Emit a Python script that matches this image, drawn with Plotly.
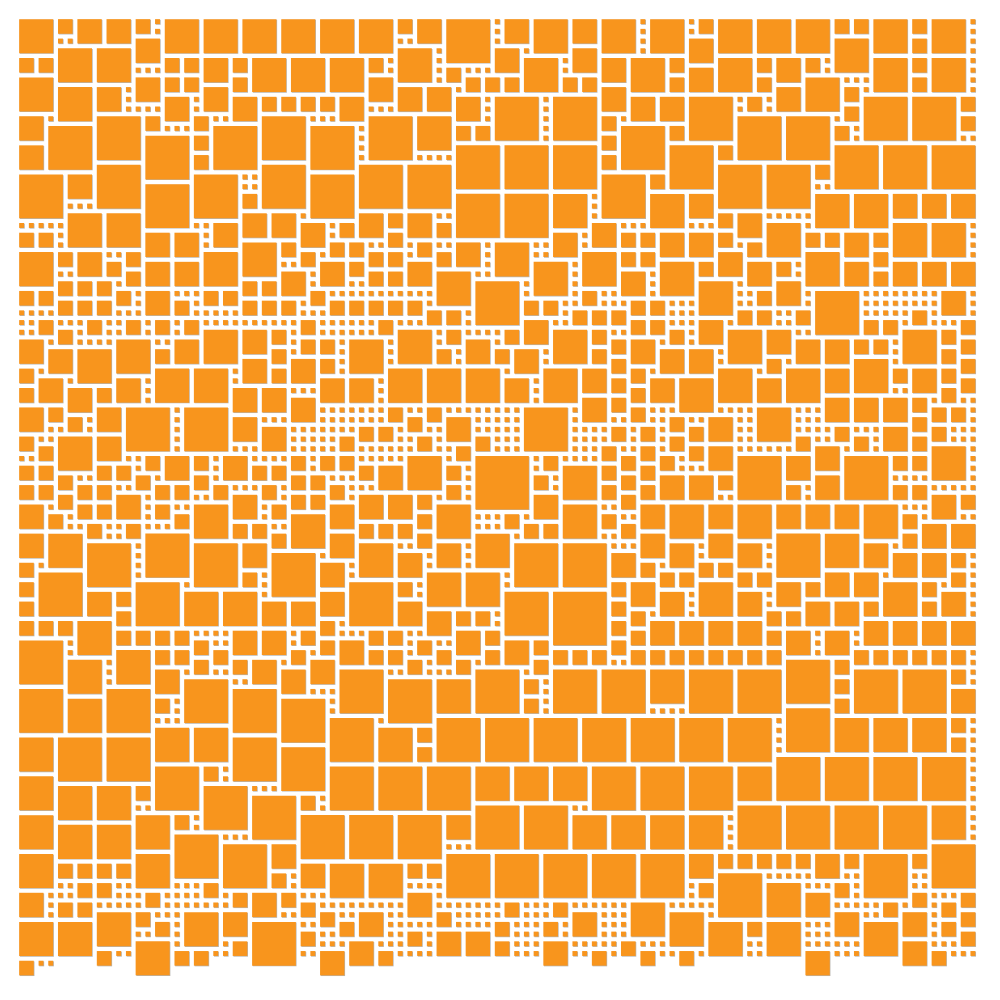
# Packed squares on a 99 x 99 cell grid
import plotly.graph_objects as go

# Color of the squares
_SQUARE_COLOR = "#F8951D"

# Color of the thin edge showing at the right and bottom of each square
_EDGE_COLOR = "#B8B4AE"

GRID_CELLS = 99

# Squares larger than one cell as (column, row, span), listed by area of the grid
squares_top_left = [(0,0,4),(4,0,2),(6,0,3),(9,0,3),(12,0,2),(15,0,4),(19,0,4),(23,0,4),(27,0,4),(31,0,4),(12,2,3),(4,3,4),(8,3,4),(0,4,2),(2,4,2),(15,4,2),(17,4,2),(19,4,3),(22,4,2),(24,4,4),(28,4,4),(32,4,4),(0,6,4),(12,6,3),(15,6,2),(17,6,2),(22,6,2),(4,7,4),(8,7,3),(19,7,3),(15,8,3),(22,8,3),(25,8,2),(27,8,2),(29,8,2),(31,8,2),(33,8,3),(0,10,3),(8,10,5),(13,10,2),(18,10,2),(25,10,5),(3,11,5),(20,11,5),(30,11,5),(13,12,5),(18,12,2),(0,13,3),(18,14,2),(8,15,5),(25,15,5),(0,16,5),(5,16,3),(18,16,5),(30,16,5),(13,17,5),(23,18,2),(5,20,4),(9,20,4),(23,20,3),(26,20,3),(20,21,3),(29,21,3),(33,21,2),(0,22,2),(2,22,2),(13,22,3),(16,22,3),(23,23,4),(27,23,2)]
squares_top_mid = [(35,0,4),(39,0,2),(41,0,3),(44,0,5),(50,0,3),(53,0,4),(57,0,3),(60,0,4),(65,0,4),(39,3,4),(49,3,3),(57,3,3),(36,4,2),(52,4,4),(60,4,3),(63,4,4),(44,5,2),(36,6,3),(46,6,2),(48,6,2),(50,6,2),(56,6,2),(58,6,2),(39,7,3),(42,7,3),(60,7,3),(45,8,3),(49,8,5),(55,8,5),(63,8,3),(66,8,3),(36,10,5),(41,10,4),(60,10,2),(45,11,2),(47,11,2),(62,11,5),(60,12,2),(45,13,5),(50,13,5),(55,13,5),(60,14,2),(35,15,5),(40,15,5),(60,16,5),(65,16,2),(45,18,5),(50,18,5),(55,18,4),(65,18,4),(35,20,3),(38,20,2),(40,20,3),(43,21,2),(59,21,3),(38,22,2),(55,22,3),(62,22,2),(64,22,2),(66,22,3),(32,23,2),(34,23,2),(41,23,2),(45,23,3),(49,23,4)]
squares_top_right = [(70,0,2),(72,0,4),(76,0,4),(80,0,4),(84,0,2),(86,0,2),(88,0,4),(92,0,2),(94,0,4),(69,2,3),(84,2,4),(92,2,2),(67,4,2),(72,4,4),(76,4,2),(78,4,3),(81,4,2),(88,4,4),(92,4,2),(94,4,4),(69,5,3),(67,6,2),(76,6,2),(81,6,4),(92,6,2),(78,7,3),(85,7,2),(69,8,5),(75,8,2),(87,8,5),(92,8,5),(97,8,2),(85,9,2),(74,10,5),(79,10,5),(97,10,2),(67,11,2),(84,11,2),(67,13,5),(72,13,2),(84,13,5),(89,13,5),(94,13,5),(72,15,5),(77,15,5),(82,15,2),(69,18,3),(82,18,4),(86,18,4),(90,18,3),(93,18,3),(96,18,3),(72,20,2),(74,20,3),(77,21,4),(90,21,4),(94,21,4),(69,22,3),(72,22,2),(81,22,2),(83,22,2),(85,22,3),(88,22,2),(75,23,2)]
squares_upper_left = [(0,24,4),(4,24,2),(6,24,3),(11,24,2),(29,24,2),(9,25,2),(13,25,3),(16,25,3),(19,24,4),(31,25,3),(11,26,2),(27,26,3),(4,27,2),(6,27,2),(8,27,2),(23,27,2),(25,27,2),(0,28,2),(2,28,2),(10,28,2),(13,28,3),(19,28,2),(21,28,2),(30,28,2),(4,29,2),(6,29,2),(8,29,2),(16,29,2),(23,29,2),(25,29,2),(27,29,2),(2,31,2),(7,31,2),(11,31,2),(14,31,2),(17,31,2),(29,31,2),(4,32,2),(19,32,4),(23,32,3),(26,32,2),(0,33,3),(10,33,4),(16,33,3),(29,33,2),(31,33,2),(3,34,3),(6,34,4),(14,34,2),(26,34,2),(23,35,3),(28,35,3),(31,35,2),(0,36,2),(14,36,4),(18,36,4),(26,36,2),(2,37,3),(10,37,3),(31,37,3),(0,38,2),(5,38,3),(8,38,2),(22,38,3),(25,38,3),(28,39,3),(0,40,3),(3,40,2),(8,40,3),(11,40,5),(17,40,5),(5,41,2),(22,41,3),(25,42,3),(0,43,2),(4,43,4),(8,43,3),(2,44,2),(13,45,2),(15,45,3),(18,45,2),(21,45,3),(28,45,2),(31,45,2),(0,46,2),(2,46,2),(8,46,2),(10,46,2),(24,46,2),(26,46,2),(4,47,2),(12,47,2),(18,47,2),(28,47,2),(30,47,2),(0,48,2),(2,48,2),(6,48,2),(8,48,2),(14,48,2),(16,48,2),(20,48,2),(25,48,2)]
squares_upper_mid = [(36,24,2),(38,24,2),(43,24,2),(58,24,4),(62,24,2),(64,24,2),(34,25,2),(40,25,3),(53,25,4),(36,26,2),(38,26,2),(43,26,4),(62,26,3),(47,27,5),(58,28,2),(32,29,2),(34,29,2),(36,29,2),(38,29,2),(40,29,2),(52,29,2),(54,29,2),(63,29,2),(65,29,2),(42,30,2),(44,30,2),(57,30,2),(59,30,2),(61,30,2),(37,31,2),(52,31,3),(63,31,2),(65,31,2),(39,32,4),(44,32,2),(50,32,2),(55,32,4),(59,32,2),(34,33,4),(46,33,3),(61,33,2),(63,33,3),(43,34,2),(49,34,2),(51,34,3),(59,34,2),(61,35,2),(38,36,4),(42,36,4),(46,36,4),(54,36,4),(58,36,3),(63,36,2),(34,37,3),(50,37,3),(61,37,2),(65,37,3),(63,38,2),(58,39,3),(61,39,2),(38,40,2),(42,40,2),(52,40,5),(63,40,2),(40,41,2),(44,41,3),(35,42,2),(37,42,2),(61,42,2),(64,42,2),(33,43,2),(41,43,2),(47,43,2),(45,44,2),(60,44,2),(64,44,2),(33,45,2),(40,45,4),(47,45,6),(54,45,2),(62,45,2),(66,45,2),(35,46,2),(37,46,3),(44,46,2),(56,46,4),(60,46,2),(64,46,2),(53,47,2),(62,47,2),(32,48,2),(44,48,2),(60,48,2),(64,48,2)]
squares_upper_right = [(72,24,3),(81,24,4),(88,24,2),(66,25,4),(70,25,2),(75,25,3),(78,25,2),(85,25,3),(90,25,3),(93,25,3),(96,25,3),(88,26,2),(70,27,4),(78,27,3),(76,28,2),(82,28,5),(95,28,3),(74,30,2),(76,30,2),(80,30,2),(92,30,2),(70,31,3),(87,31,2),(89,31,2),(97,31,2),(67,32,2),(73,32,4),(77,32,3),(91,32,4),(95,32,2),(80,33,3),(83,33,3),(86,33,2),(88,33,2),(97,33,2),(66,34,3),(69,34,3),(95,34,2),(77,35,2),(86,35,4),(97,35,2),(72,36,4),(79,36,4),(83,36,3),(90,36,2),(92,36,3),(95,36,2),(68,37,4),(76,37,3),(97,37,2),(95,38,2),(83,39,3),(86,39,3),(89,39,3),(92,39,2),(76,40,4),(94,40,2),(96,40,2),(67,41,2),(71,41,3),(92,41,2),(69,42,2),(84,42,2),(89,42,3),(94,42,2),(67,43,2),(80,43,2),(86,43,2),(92,43,2),(69,44,2),(71,44,3),(82,44,3),(94,44,4),(74,45,5),(79,45,3),(85,45,5),(90,45,2),(92,45,2),(66,47,3),(69,47,3),(72,47,2),(82,47,3),(79,48,2),(90,48,2),(92,48,2)]
squares_lower_left = [(4,49,2),(10,49,3),(22,49,3),(28,49,2),(30,49,2),(0,50,3),(6,50,2),(8,50,2),(14,50,2),(18,50,4),(26,50,2),(3,51,2),(16,51,2),(28,51,4),(7,52,2),(11,52,2),(22,52,2),(24,52,2),(0,53,3),(3,53,4),(13,53,5),(26,53,2),(7,54,5),(18,54,5),(23,54,3),(26,55,5),(0,56,2),(31,56,3),(2,57,5),(23,57,2),(0,58,2),(12,58,5),(7,59,3),(10,59,2),(17,59,4),(21,59,4),(31,59,3),(0,60,2),(25,60,3),(28,60,3),(10,61,2),(0,62,2),(2,62,2),(4,62,2),(6,62,4),(31,62,2),(10,63,2),(12,63,2),(14,63,2),(16,63,2),(22,63,3),(25,63,3),(29,63,2),(0,64,5),(18,64,2),(31,64,2),(10,65,4),(14,65,2),(16,65,2),(20,65,2),(28,65,2),(5,66,4),(18,66,2),(22,66,2),(24,66,3),(30,66,3),(14,67,3),(27,67,3),(17,68,5),(0,69,5),(9,69,5),(22,69,5),(5,70,4),(14,70,2),(27,70,5),(14,73,4),(18,73,4)]
squares_lower_mid = [(35,49,3),(38,49,3),(41,49,2),(53,49,3),(62,49,2),(32,50,3),(43,50,4),(56,50,4),(64,50,3),(41,51,2),(50,51,2),(60,51,2),(35,52,2),(37,52,2),(39,52,2),(52,52,2),(54,52,2),(62,52,2),(32,53,3),(41,53,2),(47,53,4),(64,53,3),(35,54,4),(43,54,3),(51,54,5),(56,54,5),(39,55,3),(61,55,3),(64,56,2),(42,57,4),(46,57,4),(34,58,5),(39,58,2),(61,58,2),(63,58,3),(50,59,5),(55,59,6),(39,60,3),(61,60,2),(42,61,3),(45,61,2),(47,61,2),(63,61,2),(61,62,2),(36,63,2),(38,63,2),(45,63,3),(48,63,2),(63,63,2),(33,64,3),(41,64,2),(50,64,3),(53,64,2),(61,64,2),(36,65,2),(38,65,2),(43,65,2),(48,65,2),(55,65,2),(57,65,2),(59,65,2),(63,65,2),(40,66,2),(45,66,2),(53,66,2),(33,67,5),(47,67,5),(55,67,5),(60,67,5),(38,68,5),(43,68,4),(52,68,2),(52,70,2),(32,72,5),(43,72,5),(48,72,5),(53,72,5),(58,72,5),(63,72,5),(37,73,4),(41,73,2)]
squares_lower_right = [(94,49,3),(97,49,2),(67,50,4),(71,50,3),(74,50,4),(78,50,3),(81,50,3),(84,50,3),(87,50,4),(91,51,2),(93,52,3),(96,52,3),(71,53,3),(78,53,5),(83,53,4),(91,53,2),(67,54,3),(74,54,3),(87,54,3),(90,55,3),(93,55,3),(96,55,2),(70,56,2),(72,56,2),(66,57,2),(68,57,2),(74,57,2),(76,57,2),(83,57,3),(86,57,3),(96,57,2),(70,58,4),(78,58,3),(81,58,2),(89,58,4),(93,58,2),(66,59,3),(74,59,3),(95,59,3),(81,60,3),(84,60,3),(87,60,2),(93,60,2),(77,61,2),(79,61,2),(65,62,3),(68,62,3),(71,62,3),(74,62,3),(87,62,3),(90,62,3),(93,62,3),(96,62,3),(77,63,2),(79,63,3),(83,63,3),(65,65,2),(67,65,2),(69,65,2),(71,65,2),(73,65,2),(75,65,2),(77,65,2),(86,65,2),(88,65,2),(90,65,2),(92,65,2),(94,65,2),(96,65,2),(79,66,5),(84,66,2),(65,67,4),(69,67,5),(74,67,5),(86,67,5),(91,67,5),(96,67,2),(84,68,2),(96,69,3),(84,70,2),(79,71,5),(68,72,5),(73,72,5),(84,72,4),(88,72,4),(92,72,4),(96,72,2)]
squares_bottom_left = [(0,74,4),(4,74,5),(9,74,5),(22,74,5),(27,75,5),(14,77,5),(19,77,2),(0,78,4),(4,79,4),(8,79,4),(12,79,2),(19,79,5),(24,80,5),(29,80,2),(0,82,4),(12,82,4),(16,82,2),(29,82,5),(4,83,4),(8,83,4),(16,84,5),(21,85,5),(26,85,3),(0,86,4),(12,86,4),(4,87,2),(6,87,2),(8,87,2),(10,87,2),(29,87,3),(26,88,2),(6,89,2),(8,89,2),(19,89,2),(0,90,3),(13,90,2),(22,90,2),(24,90,3),(27,90,2),(4,91,2),(6,91,2),(29,91,2),(8,92,4),(12,92,2),(17,92,4),(21,92,3),(31,92,2),(0,93,4),(4,93,4),(14,93,2),(24,93,5),(29,94,2),(12,95,4),(22,95,2),(8,96,2),(16,96,2),(18,96,2),(31,96,3),(0,97,2)]
squares_bottom_mid = [(41,75,2),(32,77,5),(37,77,5),(42,77,5),(47,77,4),(51,77,4),(55,77,4),(59,77,5),(64,77,5),(47,81,5),(52,81,5),(34,82,5),(39,82,5),(44,82,3),(57,82,4),(61,82,4),(65,82,4),(44,86,5),(49,86,5),(54,86,5),(59,86,5),(64,86,5),(32,87,4),(36,87,4),(40,87,2),(42,87,2),(40,90,3),(50,91,2),(55,91,2),(63,91,4),(35,92,3),(43,92,2),(57,92,3),(33,93,2),(49,93,2),(54,93,2),(40,94,2),(43,94,3),(46,94,3),(34,95,3),(49,95,2),(54,95,3),(62,95,2),(37,96,2),(59,96,2),(64,96,2)]
squares_bottom_right = [(96,74,2),(78,76,5),(83,76,5),(88,76,5),(93,76,5),(69,77,5),(74,77,4),(74,81,5),(79,81,5),(84,81,5),(89,81,5),(94,81,4),(69,82,4),(94,85,5),(69,86,3),(72,86,2),(74,86,2),(76,86,2),(78,86,2),(80,86,2),(82,86,3),(85,86,2),(87,86,5),(92,86,2),(72,88,5),(70,89,2),(77,89,4),(84,89,2),(81,90,3),(92,90,2),(97,90,2),(89,91,2),(95,91,2),(67,92,4),(84,92,3),(91,92,3),(97,92,2),(71,93,4),(75,93,2),(77,93,4),(87,93,4),(95,93,2),(97,94,2),(91,95,3),(68,96,2),(81,96,3),(94,96,2)]

# Last row that is completely packed, and the single-cell squares below it
LAST_FULL_ROW = 96
tail_singles = [(2,97,1),(3,97,1)]

large = set()
for part in [squares_top_left, squares_top_mid, squares_top_right, squares_upper_left, squares_upper_mid,
		squares_upper_right, squares_lower_left, squares_lower_mid, squares_lower_right,
		squares_bottom_left, squares_bottom_mid, squares_bottom_right]:
	large.update(part)

taken = set()
for c, r, s in large:
	taken.update((i, j) for i in range(c, c + s) for j in range(r, r + s))

# Every other cell holds a single-cell square
singles = [(c, r, 1) for r in range(LAST_FULL_ROW + 1) for c in range(GRID_CELLS) if (c, r) not in taken]
squares = sorted(large) + singles + tail_singles

marker_sizes = [s * 9.71 - 4.8 for c, r, s in squares]

# Returns a marker trace of all squares, nudged by the given fraction of a cell
def squareTrace(color, nudge):
	return go.Scatter(
		x = [c + s / 2 + nudge for c, r, s in squares],
		y = [r + s / 2 + nudge for c, r, s in squares],
		mode = "markers",
		marker = dict(symbol = "square", size = marker_sizes, color = color, opacity = 1, line_width = 0),
		hoverinfo = "skip",
	)

fig = go.Figure([squareTrace(_EDGE_COLOR, 0.045), squareTrace(_SQUARE_COLOR, -0.025)])

fig.update_xaxes(range = [0, GRID_CELLS], visible = False)
fig.update_yaxes(range = [GRID_CELLS, 0], visible = False)
fig.update_layout(
	width = 984,
	height = 984,
	showlegend = False,
	paper_bgcolor = "white",
	plot_bgcolor = "white",
	margin = {"l": 9, "r": 14, "t": 9, "b": 14},
)

fig.write_html("out.html")
